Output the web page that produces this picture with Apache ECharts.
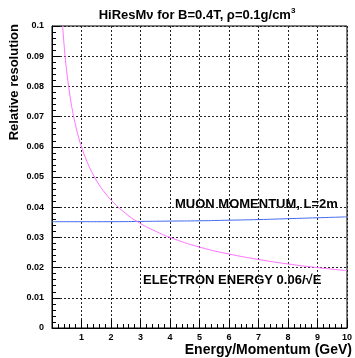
<!DOCTYPE html>
<html>
<head>
<meta charset="utf-8">
<script src="https://cdn.jsdelivr.net/npm/echarts@6/dist/echarts.min.js"></script>
<style>html,body{margin:0;padding:0;background:#fff}#c{width:355px;height:358px}</style>
</head>
<body>
<div id="c"></div>
<script>
var titleText = 'HiResMν for B=0.4T, ρ=0.1g/cm';
var xName = 'Energy/Momentum (GeV)';
var yName = 'Relative resolution';
var muLabel = 'MUON MOMENTUM, L=2m';
var eLabel = 'ELECTRON ENERGY 0.06/√E';

var eEnergy = [0.36,0.4,0.45,0.5,0.6,0.7,0.8,0.9,1,1.2,1.4,1.6,1.8,2,2.5,3,3.5,4,5,6,7,8,9,10];
var eRes = [0.1,0.0949,0.0894,0.0849,0.0775,0.0717,0.0671,0.0632,0.06,0.0548,0.0507,0.0474,0.0447,0.0424,0.0379,0.0346,0.0321,0.03,0.0268,0.0245,0.0227,0.0212,0.02,0.019];

var muMomentum = [0,1,2,3,4,5,6,7,8,9,10];
var muRes = [0.0352,0.0352,0.0352,0.0353,0.0354,0.0355,0.0357,0.0359,0.0362,0.0365,0.0368];

var FONT = '"Liberation Sans", Helvetica, Arial, sans-serif';

function pairs(xs, ys){ return xs.map(function(x,i){ return [x, ys[i]]; }); }

var chart = echarts.init(document.getElementById('c'));
chart.setOption({
  animation: false,
  grid: {left: 52, right: 3, top: 26, bottom: 30, show: true, borderColor: '#000', borderWidth: 1, backgroundColor: 'transparent'},
  xAxis: {
    type: 'value', min: 0, max: 10, interval: 1,
    axisLine: {show: true, lineStyle: {color: '#000', width: 1}},
    axisTick: {show: true, inside: true, length: 8, lineStyle: {color: '#000'}},
    minorTick: {show: true, splitNumber: 5, length: 4, lineStyle: {color: '#000'}},
    splitLine: {show: true, lineStyle: {color: '#222', type: [2, 2], width: 1}},
    axisLabel: {fontFamily: FONT, fontWeight: 'bold', fontSize: 9, color: '#000', margin: 5,
      showMaxLabel: true,
      formatter: function(v){ return v === 0 ? '' : String(v); }}
  },
  yAxis: {
    type: 'value', min: 0, max: 0.1, interval: 0.01,
    axisLine: {show: true, lineStyle: {color: '#000', width: 1}},
    axisTick: {show: true, inside: true, length: 8, lineStyle: {color: '#000'}},
    minorTick: {show: true, splitNumber: 5, length: 4, lineStyle: {color: '#000'}},
    splitLine: {show: true, lineStyle: {color: '#222', type: [2, 2], width: 1}},
    axisLabel: {fontFamily: FONT, fontWeight: 'bold', fontSize: 9, color: '#000', margin: 8,
      formatter: function(v){ return String(parseFloat(v.toFixed(3))); }}
  },
  series: [
    {type: 'line', data: pairs(muMomentum, muRes), showSymbol: false, smooth: true,
     lineStyle: {color: '#4169ee', width: 1}, itemStyle: {color: '#4169ee'}, clip: true},
    {type: 'line', data: pairs(eEnergy, eRes), showSymbol: false, smooth: true,
     lineStyle: {color: '#ff70ff', width: 1}, itemStyle: {color: '#ff70ff'}, clip: true}
  ],
  graphic: [
    {type: 'text', x: 197, y: 15, style: {
      text: '{a|' + titleText + '}{s|3}',
      align: 'center', verticalAlign: 'middle', textAlign: 'center', textVerticalAlign: 'middle',
      rich: {a: {fontFamily: FONT, fontWeight: 'bold', fontSize: 13, fill: '#000', color: '#000'},
             s: {fontFamily: FONT, fontWeight: 'bold', fontSize: 8, fill: '#000', color: '#000', verticalAlign: 'top', padding: [0,0,8,0]}}
    }},
    {type: 'text', x: 14, y: 24, rotation: Math.PI / 2, style: {
      text: yName, font: 'bold 13px ' + FONT, fill: '#000',
      align: 'right', verticalAlign: 'middle', textAlign: 'right', textVerticalAlign: 'middle'
    }},
    {type: 'text', x: 352, y: 350, style: {
      text: xName, font: 'bold 14px ' + FONT, fill: '#000',
      align: 'right', verticalAlign: 'middle', textAlign: 'right', textVerticalAlign: 'middle'
    }},
    {type: 'text', x: 175, y: 204, style: {
      text: muLabel, font: 'bold 13px ' + FONT, fill: '#000',
      align: 'left', verticalAlign: 'middle', textAlign: 'left', textVerticalAlign: 'middle'
    }},
    {type: 'text', x: 143, y: 280, style: {
      text: eLabel, font: 'bold 13px ' + FONT, fill: '#000',
      align: 'left', verticalAlign: 'middle', textAlign: 'left', textVerticalAlign: 'middle'
    }}
  ]
});
</script>
</body>
</html>
